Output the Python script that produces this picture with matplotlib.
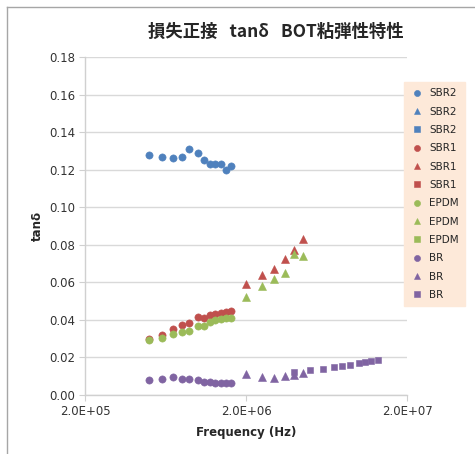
import matplotlib
matplotlib.use("Agg")
import matplotlib.pyplot as plt
from matplotlib.ticker import FixedLocator, FixedFormatter, NullLocator

# ---------------- data ----------------
f_circle = [5.0e5, 6.0e5, 7.0e5, 8.0e5, 8.9e5, 1.0e6, 1.09e6, 1.19e6, 1.28e6, 1.40e6, 1.50e6, 1.61e6]
f_tri = [2.0e6, 2.5e6, 3.0e6, 3.5e6, 4.0e6, 4.5e6]
f_sq = [4.0e6, 5.0e6, 6.0e6, 7.0e6, 7.9e6, 8.9e6, 1.0e7, 1.09e7, 1.2e7, 1.32e7]

sbr2_circle = [0.128, 0.127, 0.126, 0.127, 0.131, 0.129, 0.125, 0.123, 0.123, 0.123, 0.120, 0.122]
sbr1_circle = [0.0297, 0.0320, 0.0352, 0.0373, 0.0384, 0.0413, 0.0410, 0.0426, 0.0432, 0.0437, 0.0442, 0.0448]
epdm_circle = [0.0293, 0.0304, 0.0325, 0.0336, 0.0341, 0.0368, 0.0368, 0.0389, 0.0398, 0.0403, 0.0408, 0.0410]
br_circle = [0.0080, 0.0084, 0.0098, 0.0084, 0.0084, 0.0080, 0.0070, 0.0069, 0.0065, 0.0064, 0.0066, 0.0062]

sbr1_tri = [0.0592, 0.0640, 0.0672, 0.0725, 0.0773, 0.0832]
epdm_tri = [0.0522, 0.0580, 0.0618, 0.0650, 0.0752, 0.0741]
br_tri = [0.0110, 0.0098, 0.0092, 0.0100, 0.0107, 0.0115]

br_sq = [0.0123, 0.0131, 0.0141, 0.0149, 0.0155, 0.0160, 0.0168, 0.0174, 0.0180, 0.0189]

materials = ["SBR2", "SBR1", "EPDM", "BR"]
colors = {"SBR2": "#4F81BD", "SBR1": "#C0504D", "EPDM": "#9BBB59", "BR": "#8064A2"}
series = {
    "SBR2": [(f_circle, sbr2_circle), ([], []), ([], [])],
    "SBR1": [(f_circle, sbr1_circle), (f_tri, sbr1_tri), ([], [])],
    "EPDM": [(f_circle, epdm_circle), (f_tri, epdm_tri), ([], [])],
    "BR": [(f_circle, br_circle), (f_tri, br_tri), (f_sq, br_sq)],
}
markers = ["o", "^", "s"]
msizes = [5.2, 5.6, 5.0]

x_ticks = [2e5, 2e6, 2e7]
x_tick_labels = ["2.0E+05", "2.0E+06", "2.0E+07"]
y_ticks = [0.00, 0.02, 0.04, 0.06, 0.08, 0.10, 0.12, 0.14, 0.16, 0.18]

title = "損失正接   tanδ   BOT粘弾性特性"

# ---------------- figure ----------------
W, H = 475, 454
fig = plt.figure(figsize=(W / 100, H / 100), dpi=100)
fig.patch.set_facecolor("white")

def px(x0, y0, x1, y1):
    return [x0 / W, 1 - y1 / H, (x1 - x0) / W, (y1 - y0) / H]

ax = fig.add_axes(px(85, 57, 407, 395))
ax.set_xscale("log")
ax.set_xlim(2e5, 2e7)
ax.set_ylim(0, 0.18)

for m in materials:
    for (xs, ys), mk, ms in zip(series[m], markers, msizes):
        ax.plot(xs, ys, linestyle="none", marker=mk, markersize=ms,
                color=colors[m], markeredgewidth=0.4, markeredgecolor=colors[m],
                label=m, zorder=3)

ax.xaxis.set_major_locator(FixedLocator(x_ticks))
ax.xaxis.set_major_formatter(FixedFormatter(x_tick_labels))
ax.xaxis.set_minor_locator(NullLocator())
ax.set_yticks(y_ticks)
ax.set_yticklabels([f"{v:.2f}" for v in y_ticks])

ax.grid(axis="y", color="#D9D9D9", linewidth=1.0, zorder=0)
ax.set_axisbelow(True)
for s in ["top", "right"]:
    ax.spines[s].set_visible(False)
for s in ["left", "bottom"]:
    ax.spines[s].set_color("#D0D0D0")
    ax.spines[s].set_linewidth(1.0)
ax.tick_params(axis="both", which="major", direction="out", length=4,
               color="#D0D0D0", labelsize=8.5, labelcolor="#333333", pad=3)

ax.set_xlabel("Frequency (Hz)", fontsize=8.5, fontweight="bold", color="#262626", labelpad=6)
ax.set_ylabel("tanδ", fontsize=8.5, fontweight="bold", color="#262626", labelpad=4)

fig.text(276 / W, 1 - 32 / H, title, ha="center", va="center", fontsize=12.5,
         fontweight="bold", family=["Noto Sans CJK JP", "DejaVu Sans"], color="#262626")

leg = ax.legend(loc="upper left", bbox_to_anchor=(404 / W, 1 - 82 / H),
                bbox_transform=fig.transFigure, fontsize=7.5, frameon=True,
                fancybox=False, labelspacing=0.8, handlelength=1.2,
                handletextpad=0.6, borderpad=0.6, borderaxespad=0, markerscale=0.85)
leg.get_frame().set_facecolor("#FDE9D9")
leg.get_frame().set_edgecolor("#FDE9D9")
leg.get_frame().set_alpha(1)
for t in leg.get_texts():
    t.set_color("#262626")

# outer chart border (left and top)
fig.add_artist(plt.Line2D([7 / W, 7 / W], [1 - 7 / H, 0], transform=fig.transFigure,
                          color="#A6A6A6", linewidth=1.0))
fig.add_artist(plt.Line2D([7 / W, 1], [1 - 7 / H, 1 - 7 / H], transform=fig.transFigure,
                          color="#A6A6A6", linewidth=1.0))

fig.savefig("out.png", dpi=100)
